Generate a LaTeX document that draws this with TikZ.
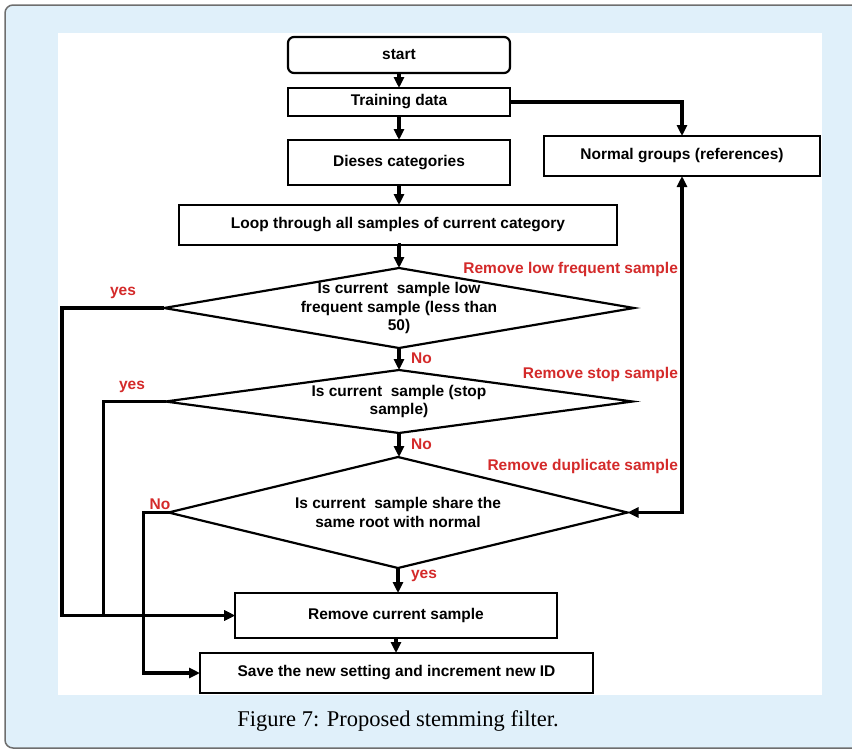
\documentclass[tikz,border=0pt]{standalone}
\usepackage{fontspec}
\setmainfont{Liberation Sans}
\newfontfamily\capfont{Liberation Serif}
\usetikzlibrary{shapes.geometric,arrows.meta}
\definecolor{framebg}{HTML}{E0F0FA}
\definecolor{frameline}{HTML}{6E6E6E}
\definecolor{labelred}{HTML}{D42A2A}

\begin{document}
\begin{tikzpicture}[x = 1pt, y = -1pt, line width = 2.2pt,
                        box/.style = {rectangle, draw, fill = white, inner sep = 0pt, outer sep = 0pt,
                                      font = \bfseries\fontsize{15.5}{17}\selectfont},
                        test/.style = {diamond, draw, fill = white, inner sep = 0pt, outer sep = 0pt},
                        testtext/.style = {align = center, font = \bfseries\fontsize{15.5}{18.5}\selectfont},
                        flow/.style = {line width = 3.2pt, -{Triangle[length = 11pt, width = 10pt]}},
                        tag/.style = {text = labelred, inner sep = 0pt, font = \bfseries\fontsize{15.5}{17}\selectfont}]
      % frame and panel
      \useasboundingbox (0, 0) rectangle (852, 753);
      \clip (0, 0) rectangle (852, 753);
      \draw [fill = framebg, draw = frameline, line width = 1.5pt, rounded corners = 8pt] (5, 5) rectangle (880, 748);
      \fill [white] (58, 33) rectangle (822, 695);
      % boxes
      \node [box, rounded corners = 6pt, minimum width = 222, minimum height = 36] (start) at (399, 55){start};
      \node [box, minimum width = 222, minimum height = 28] (train) at (399, 102){Training data};
      \node [box, minimum width = 222, minimum height = 45] (dis) at (399, 162.5){Dieses categories};
      \node [box, minimum width = 276, minimum height = 40] (normal) at (682, 156){Normal groups (references)};
      \node [box, minimum width = 438, minimum height = 40] (loop) at (398, 225){Loop through all samples of current category};
      \node [test, minimum width = 470, minimum height = 80,
             label = {[testtext]center:Is current~ sample low\\frequent sample (less than\\50)}] (d1) at (399, 308){};
      \node [test, minimum width = 467, minimum height = 63,
             label = {[testtext]center:Is current~ sample (stop\\sample)}] (d2) at (399, 401.5){};
      \node [test, minimum width = 459, minimum height = 111,
             label = {[testtext]center:Is current~ sample share the\\same root with normal}] (d3) at (398, 512.5){};
      \node [box, minimum width = 322, minimum height = 45] (remove) at (396, 615.5){Remove current sample};
      \node [box, minimum width = 393, minimum height = 40] (save) at (396.5, 673){Save the new setting and increment new ID};
      % connectors
      \draw [flow] (start) -- (train);
      \draw [flow] (train) -- (dis);
      \draw [flow] (dis.south) -- (dis.south |- loop.north);
      \draw [flow] (loop.south) -- (loop.south -| d1.north) -- (d1.north);
      \draw [flow] (d1) -- (d2);
      \draw [flow] (d2.south) -- (d2.south |- d3.north);
      \draw [flow] (d3.south) -- (d3.south |- remove.north);
      \draw [flow] (remove.south) -- (remove.south |- save.north);
      \draw [flow] (train.east) -| (normal.north);
      \draw [flow, {Triangle[length = 11pt, width = 10pt]}-{Triangle[length = 11pt, width = 10pt]}] (d3.east) -| (normal.south);
      \draw [flow] (d1.west) -- ++(-102, 0) |- (remove.west);
      \draw [flow] (d2.west) -- ++(-62, 0) |- (remove.west);
      \draw [flow] (d3.west) -- ++(-25, 0) |- (save.west);
      % labels
      \node [tag, anchor = west] (no1) at (410, 358){No};
      \node [tag, anchor = west] (no2) at (410, 444){No};
      \node [tag, anchor = west] (yes3) at (410, 576){yes};
      \node [tag] (yes1) at (123, 293){yes};
      \node [tag] (yes2) at (132, 387){yes};
      \node [tag] (no3) at (160, 504){No};
      \node [tag, anchor = east] (rm1) at (679, 269){Remove low frequent sample};
      \node [tag, anchor = east] (rm2) at (679, 374){Remove stop sample};
      \node [tag, anchor = east] (rm3) at (679, 466){Remove duplicate sample};
      \node [font = \capfont\fontsize{22.5}{27}\selectfont] (cap) at (398, 721){Figure 7: Proposed stemming filter.};
    \end{tikzpicture}
\end{document}
